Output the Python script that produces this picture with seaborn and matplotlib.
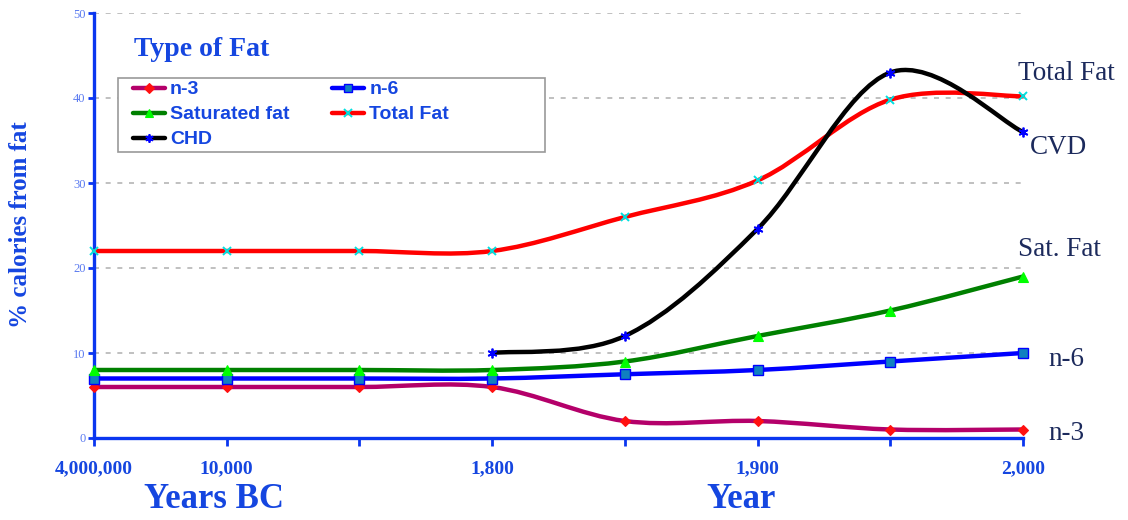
import numpy as np
import matplotlib
matplotlib.use("Agg")
import matplotlib.pyplot as plt
from matplotlib.path import Path
from matplotlib.patches import PathPatch, Rectangle
from matplotlib.lines import Line2D
import seaborn as sns

# ---- data -------------------------------------------------------------
tick_labels = ["4,000,000", "10,000", "", "1,800", "", "1,900", "", "2,000"]
n3 = [6, 6, 6, 6, 2, 2, 1, 1]
n6 = [7, 7, 7, 7, 7.5, 8, 9, 10]
sat_fat = [8, 8, 8, 8, 9, 12, 15, 19]
total_fat = [22, 22, 22, 22, 26, 30.3, 39.8, 40.2]
chd = [np.nan, np.nan, np.nan, 10, 12, 24.6, 43, 36]

series_names = ["n-3", "n-6", "Saturated fat", "Total Fat", "CHD"]
end_labels = ["n-3", "n-6", "Sat. Fat", "Total Fat", "CVD"]

# ---- style ------------------------------------------------------------
sns.set_theme(style="white")
plt.rcParams["font.family"] = ["Liberation Serif", "DejaVu Serif"]

AXIS_BLUE = "#0a36f0"
TEXT_BLUE = "#1546e0"
TICK_BLUE = "#5a7af0"
NAVY = "#1c2a5c"

styles = [
    dict(line="#b4006a", marker="D", mfc="#ff1010", mec="#ff1010", ms=5.5, mew=0.8),
    dict(line="#0000ff", marker="s", mfc="#1080c0", mec="#0000ff", ms=6.5, mew=1.0),
    dict(line="#008000", marker="^", mfc="#00ff00", mec="#00ff00", ms=7, mew=0.8),
    dict(line="#ff0000", marker="x", mfc="#00e0e0", mec="#00e0e0", ms=6, mew=1.4),
    dict(line="#000000", marker=(6, 2, 0), mfc="#0000ff", mec="#0000ff", ms=7, mew=1.3),
]

fig = plt.figure(figsize=(11.28, 5.2), dpi=100)
W, H = 1128, 520
ax = fig.add_axes([94 / W, 1 - 438 / H, (1023 - 94) / W, (438 - 13) / H])

x = np.arange(len(tick_labels))


def smooth_path(xs, ys):
    """Cubic Bezier path through the points (Catmull-Rom style smoothing)."""
    pts = np.column_stack([xs, ys])
    n = len(pts)
    verts = [pts[0]]
    codes = [Path.MOVETO]
    for i in range(n - 1):
        p0 = pts[i - 1] if i > 0 else pts[i]
        p1 = pts[i]
        p2 = pts[i + 1]
        p3 = pts[i + 2] if i + 2 < n else pts[i + 1]
        c1 = p1 + (p2 - p0) / 6.0
        c2 = p2 - (p3 - p1) / 6.0
        verts += [c1, c2, p2]
        codes += [Path.CURVE4] * 3
    return Path(verts, codes)


all_series = [n3, n6, sat_fat, total_fat, chd]
handles = []
for k, (vals, st) in enumerate(zip(all_series, styles)):
    vals = np.asarray(vals, dtype=float)
    ok = ~np.isnan(vals)
    xs, ys = x[ok], vals[ok]
    z = 3 + k
    patch = PathPatch(smooth_path(xs, ys), facecolor="none", edgecolor=st["line"],
                      lw=3.2, capstyle="round", joinstyle="round", zorder=z, clip_on=False)
    ax.add_patch(patch)
    sns.lineplot(x=xs, y=ys, ax=ax, linestyle="", marker=st["marker"],
                 markerfacecolor=st["mfc"], markeredgecolor=st["mec"],
                 markersize=st["ms"], markeredgewidth=st["mew"], color=st["mec"],
                 zorder=z + 0.5, clip_on=False, legend=False)
    handles.append(Line2D([0], [0], color=st["line"], lw=3.2, marker=st["marker"],
                          markerfacecolor=st["mfc"], markeredgecolor=st["mec"],
                          markersize=st["ms"] * 0.85, markeredgewidth=st["mew"],
                          solid_capstyle="round"))

# ---- axes -------------------------------------------------------------
ax.set_xlim(0, 7)
ax.set_ylim(0, 50)
ax.set_yticks(np.arange(0, 51, 10))
ax.set_xticks(x)
ax.set_xticklabels(tick_labels)
for yv in range(10, 51, 10):
    ax.axhline(yv, color="#b5b5b5", lw=1.2, linestyle=(0, (3, 4)), zorder=1)

for side in ["top", "right"]:
    ax.spines[side].set_visible(False)
for side in ["left", "bottom"]:
    ax.spines[side].set_color(AXIS_BLUE)
    ax.spines[side].set_linewidth(2.4)
    ax.spines[side].set_zorder(2)

ax.tick_params(axis="y", direction="out", length=4, width=2, color=AXIS_BLUE,
               labelsize=9, labelcolor=TICK_BLUE, pad=2, left=True)
ax.tick_params(axis="x", direction="out", length=6, width=2, color=AXIS_BLUE,
               labelsize=14, labelcolor=TEXT_BLUE, pad=10, bottom=True)
for lab in ax.get_xticklabels():
    lab.set_fontweight("bold")
ax.set_xlabel("")
ax.set_ylabel("")

# ---- texts ------------------------------------------------------------
fig.text(21 / W, 1 - 225 / H, "% calories from fat", rotation=90, ha="center",
         va="center", fontsize=18, fontweight="bold", color=TEXT_BLUE)
fig.text(214 / W, 1 - 500 / H, "Years BC", ha="center", va="center",
         fontsize=25, fontweight="bold", color=TEXT_BLUE)
fig.text(741 / W, 1 - 500 / H, "Year", ha="center", va="center",
         fontsize=25, fontweight="bold", color=TEXT_BLUE)
fig.text(134 / W, 1 - 50 / H, "Type of Fat", ha="left", va="center",
         fontsize=20, fontweight="bold", color=TEXT_BLUE)

end_pos = [(1048, 434), (1048, 360), (1018, 249), (1018, 74), (1030, 147)]
for txt, (px, py) in zip(end_labels, end_pos):
    fig.text(px / W, 1 - py / H, txt, ha="left", va="center", fontsize=19.5,
             color=NAVY)

# ---- legend -----------------------------------------------------------
fig.add_artist(Rectangle((118 / W, 1 - 152 / H), (545 - 118) / W, (152 - 78) / H,
                         transform=fig.transFigure, facecolor="white",
                         edgecolor="#999999", lw=1.2, zorder=10))
# two columns filled row by row: n-3 | n-6, Saturated fat | Total Fat, CHD
order = [0, 2, 4, 1, 3]
leg = fig.legend([handles[i] for i in order], [series_names[i] for i in order],
                 ncol=2, loc="upper left",
                 bbox_to_anchor=(125 / W, 1 - 73 / H), frameon=False,
                 prop={"family": ["Liberation Sans", "DejaVu Sans"], "weight": "bold", "size": 14},
                 handlelength=1.65, handletextpad=0.26, columnspacing=2.2,
                 labelspacing=0.38, borderaxespad=0)
leg.set_zorder(11)
for t in leg.get_texts():
    t.set_color(TEXT_BLUE)

fig.savefig("out.png", dpi=100)
